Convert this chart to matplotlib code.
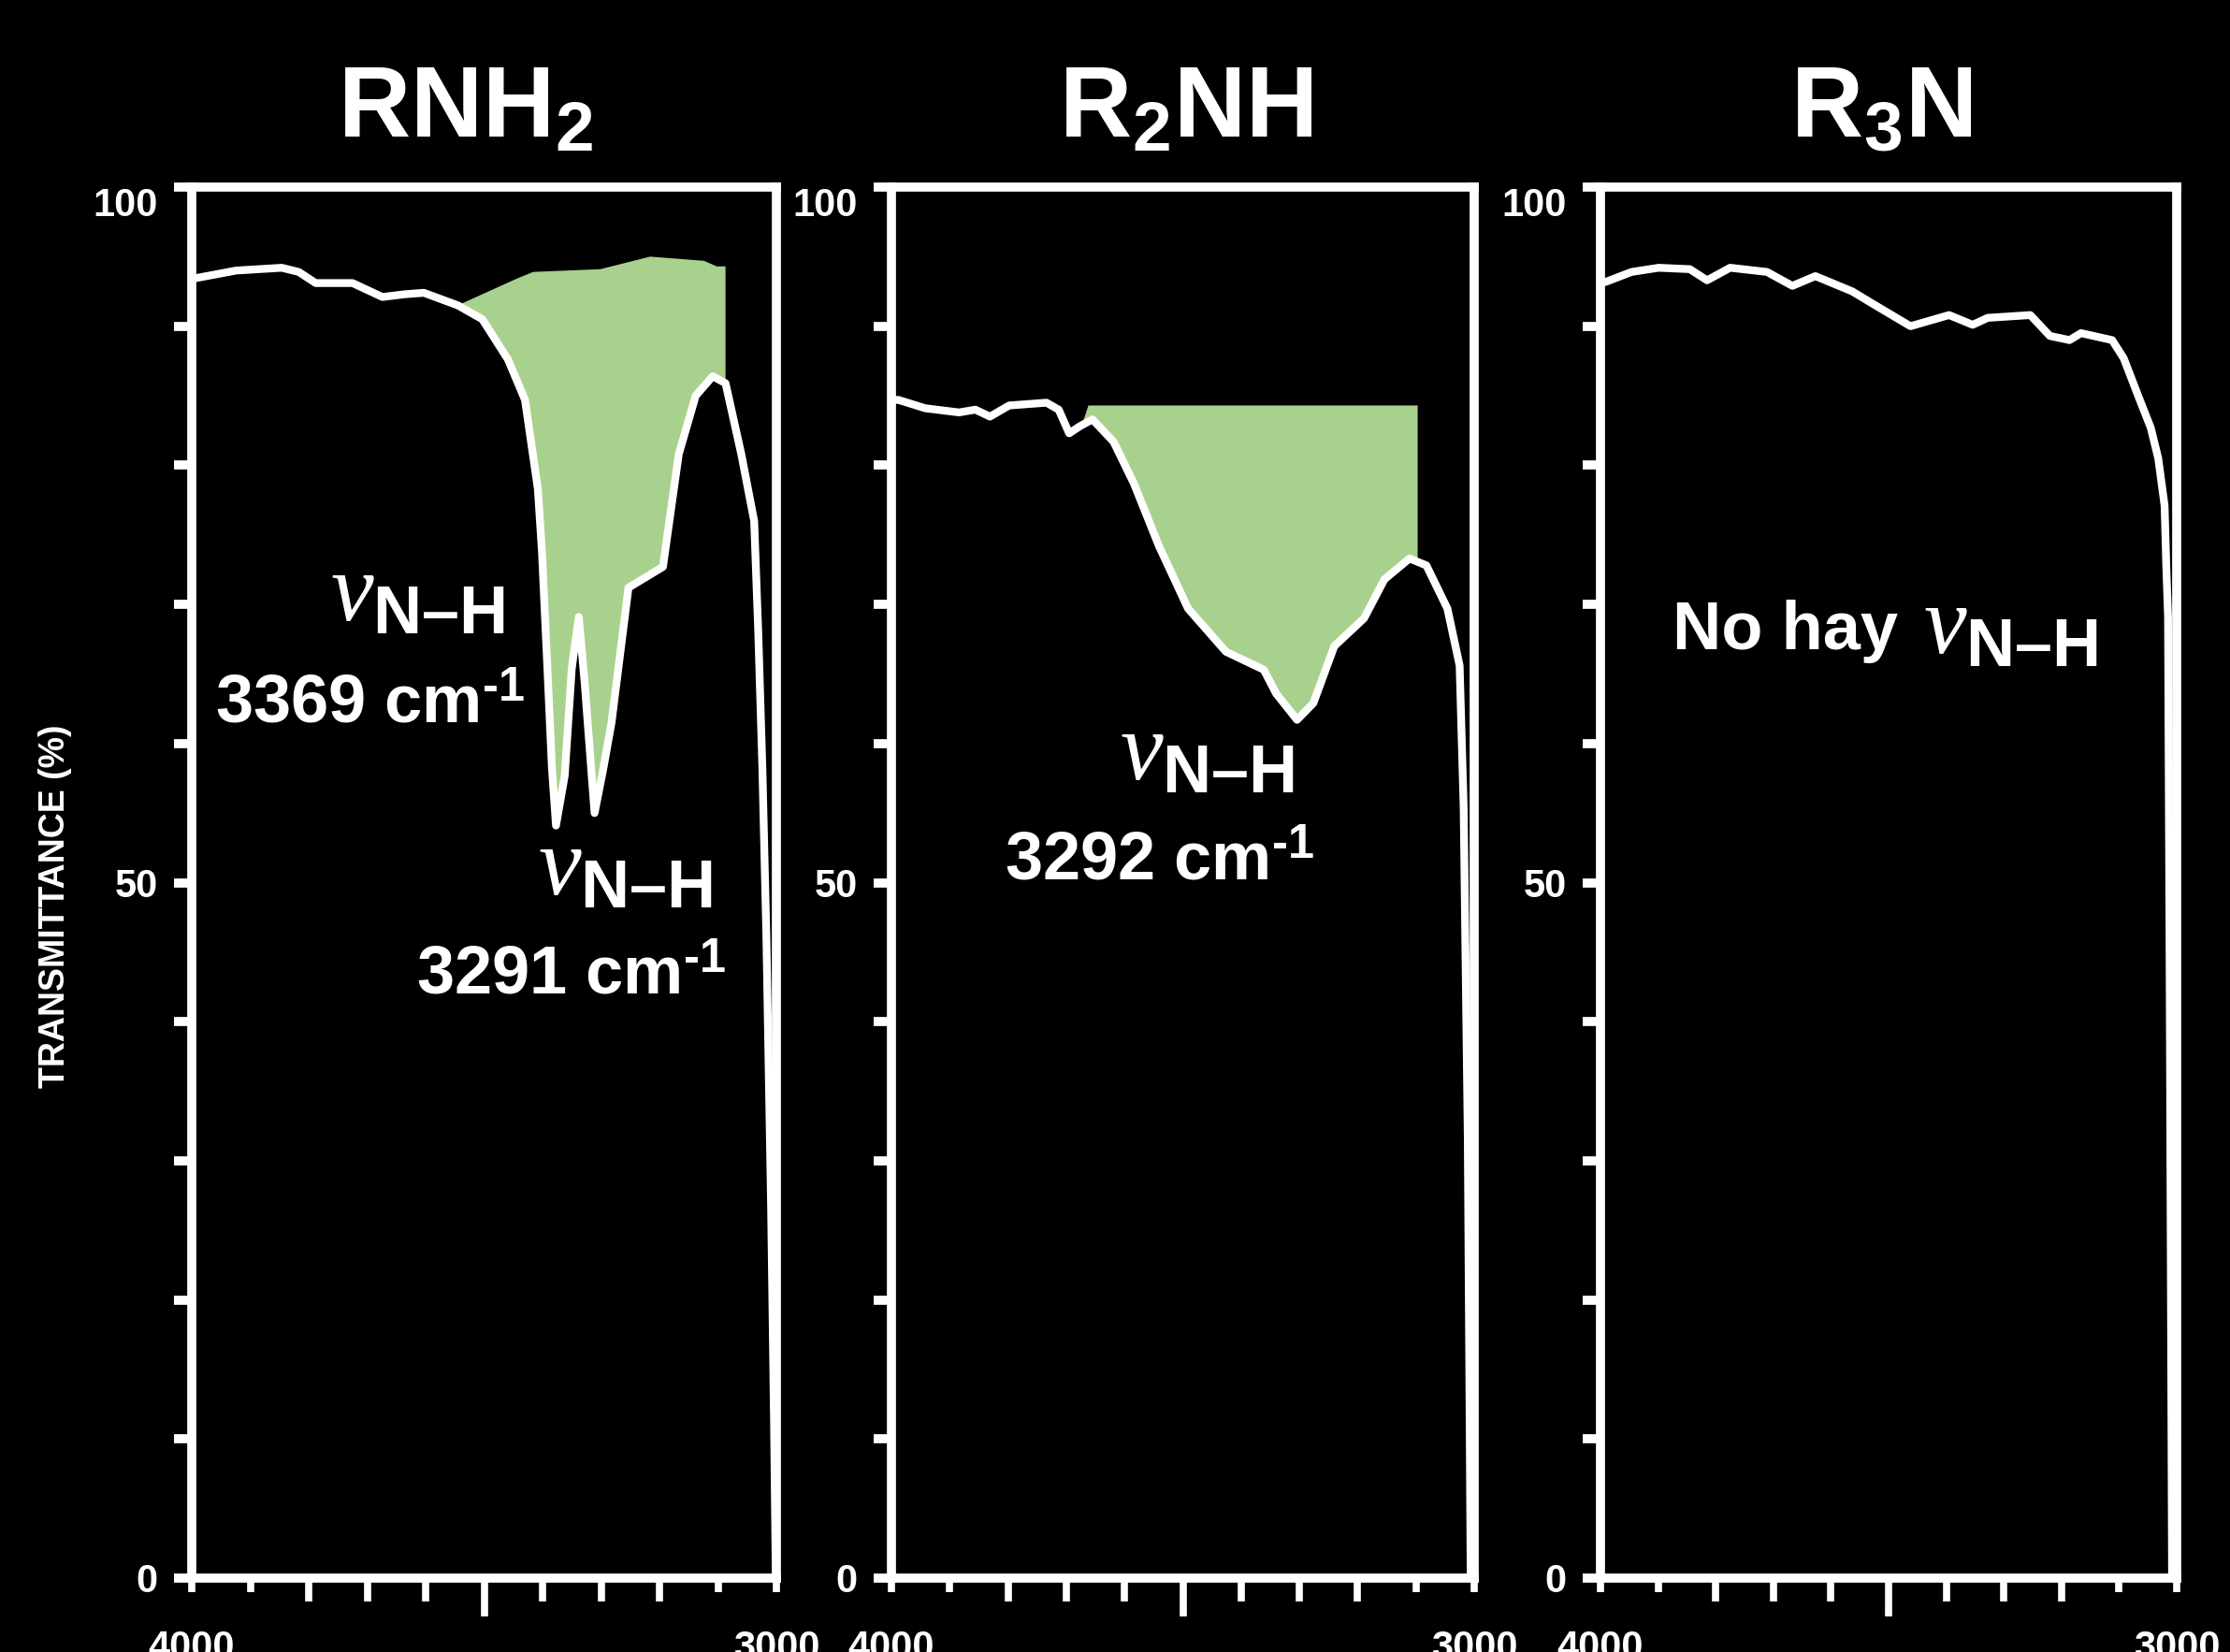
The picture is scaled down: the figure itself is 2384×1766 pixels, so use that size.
import numpy as np
import matplotlib
matplotlib.use('Agg')
import matplotlib.pyplot as plt

# IR spectra (wavenumber in cm-1, transmittance in %)
titles = ['RNH$_2$', 'R$_2$NH', 'R$_3$N']

wn1 = [4000, 3924, 3846, 3817, 3788, 3725, 3674, 3635, 3603, 3545, 3503, 3459, 3430,
       3408, 3401, 3391, 3384, 3377, 3362, 3350, 3338, 3328, 3311, 3296, 3282, 3253,
       3194, 3167, 3138, 3109, 3087, 3060, 3038, 3031, 3024, 3017, 3009, 3004, 3001]
t1 = [93.4, 94.0, 94.2, 93.9, 93.1, 93.1, 92.1, 92.3, 92.4, 91.5, 90.5, 87.6, 84.7,
      78.3, 73.8, 64.8, 58.3, 54.1, 57.7, 65.4, 69.1, 64.4, 55.0, 58.2, 61.5, 71.2,
      72.7, 80.8, 85.0, 86.4, 85.9, 80.8, 76.0, 68.0, 58.3, 45.9, 26.6, 11.2, 0.0]

wn2 = [4000, 3988, 3942, 3884, 3856, 3831, 3798, 3734, 3713, 3695, 3677, 3655, 3619,
       3584, 3541, 3491, 3426, 3361, 3340, 3304, 3276, 3240, 3189, 3154, 3111, 3082,
       3046, 3025, 3018, 3011, 3006]
t2 = [84.7, 84.7, 84.1, 83.8, 84.0, 83.5, 84.3, 84.5, 84.0, 82.3, 82.8, 83.3, 81.7,
      78.7, 74.2, 69.7, 66.6, 65.3, 63.6, 61.7, 62.9, 67.0, 69.0, 71.8, 73.3, 72.8,
      69.7, 65.6, 55.3, 31.7, 0.0]

wn3 = [4000, 3990, 3946, 3899, 3845, 3815, 3775, 3711, 3667, 3627, 3563, 3523, 3462,
       3395, 3354, 3328, 3254, 3220, 3186, 3166, 3112, 3092, 3065, 3045, 3032, 3021,
       3018, 3015, 3012, 3008]
t3 = [93.1, 93.2, 93.9, 94.2, 94.1, 93.3, 94.2, 93.9, 92.9, 93.6, 92.5, 91.5, 90.0,
      90.8, 90.1, 90.6, 90.8, 89.3, 89.0, 89.5, 89.0, 87.7, 84.8, 82.7, 80.5, 77.1,
      72.7, 69.1, 41.9, 0.0]

# upper edges of the green highlighted areas
fill1_wn = [3545, 3445, 3416, 3301, 3216, 3124, 3102, 3087]
fill1_t = [91.5, 93.4, 93.9, 94.1, 95.0, 94.7, 94.3, 94.3]
fill2_wn = [3673, 3662, 3097, 3097]
fill2_t = [82.9, 84.3, 84.3, 73.1]

plt.rcParams['font.family'] = 'Liberation Sans'
plt.rcParams['mathtext.fontset'] = 'custom'
plt.rcParams['mathtext.rm'] = 'Liberation Sans:bold'
plt.rcParams['mathtext.bf'] = 'Liberation Sans:bold'
plt.rcParams['mathtext.it'] = 'Liberation Serif:italic'

green = '#a9d18e'
nu = r'$\nu_{\mathrm{N–H}}$'


def style(ax, title, tx):
    ax.set_facecolor('black')
    ax.set_xlim(4000, 3000)
    ax.set_ylim(0, 100)
    for s in ax.spines.values():
        s.set_color('white')
        s.set_linewidth(7)
    ax.set_yticks([0, 50, 100])
    ax.set_yticks([10, 20, 30, 40, 60, 70, 80, 90], minor=True)
    ax.tick_params(axis='y', which='both', colors='white', length=14, width=7,
                   labelsize=30, pad=12)
    ax.set_xticks([4000, 3900, 3100, 3000])
    ax.set_xticklabels(['4000', '', '', '3000'])
    ax.set_xticks([3800, 3700, 3600, 3400, 3300, 3200], minor=True)
    ax.tick_params(axis='x', which='major', colors='white', length=10.5, width=5.5,
                   labelsize=30, pad=29)
    ax.tick_params(axis='x', which='minor', colors='white', length=18, width=5.5)
    for lb in ax.get_yticklabels() + ax.get_xticklabels():
        lb.set_fontweight('bold')
    ax.get_yticklabels()[-1].set_va('top')
    sec = ax.secondary_xaxis('bottom')
    sec.set_xticks([3500])
    sec.tick_params(length=29.5, width=5.5, colors='white', labelbottom=False)
    sec.spines['bottom'].set_visible(False)
    ax.text(tx, 1.036, title, transform=ax.transAxes, ha='center', va='baseline',
            fontsize=77, fontweight='bold', color='white')


def band(ax, wn, t, top_wn, top_t):
    wn = np.array(wn)
    t = np.array(t)
    inside = (wn < top_wn[0]) & (wn >= top_wn[-1])
    px = np.concatenate([top_wn, wn[inside][::-1]])
    py = np.concatenate([top_t, t[inside][::-1]])
    ax.fill(px, py, color=green, lw=0, zorder=2)


fig = plt.figure(figsize=(23.84, 17.66), dpi=100, facecolor='black')
boxes = [(205, 625), (953, 623), (1711, 616)]
title_x = [0.469, 0.506, 0.487]
axes = []
for (left, width), title, tx in zip(boxes, titles, title_x):
    ax = fig.add_axes([left / 2384, 1 - 1687 / 1766, width / 2384, 1487 / 1766])
    style(ax, title, tx)
    axes.append(ax)
ax1, ax2, ax3 = axes

band(ax1, wn1, t1, fill1_wn, fill1_t)
band(ax2, wn2, t2, fill2_wn, fill2_t)

for ax, wn, t in zip(axes, [wn1, wn2, wn3], [t1, t2, t3]):
    ax.plot(wn, t, color='white', lw=6, solid_joinstyle='round',
            solid_capstyle='round', zorder=3)

txt = dict(color='white', ha='left', va='baseline')
lab = dict(fontsize=52, fontweight='bold', **txt)

ax1.text(3763, 68.8, nu, fontsize=74, **txt)
ax1.text(3960, 61.5, r'3369 cm$^{\text{-}1}$', **lab)
ax1.text(3408, 49.1, nu, fontsize=74, **txt)
ax1.text(3616, 42.0, r'3291 cm$^{\text{-}1}$', **lab)

ax2.text(3609, 57.4, nu, fontsize=74, **txt)
ax2.text(3805, 50.2, r'3292 cm$^{\text{-}1}$', **lab)

ax3.text(3875, 66.8, 'No hay', **lab)
ax3.text(3440, 66.5, nu, fontsize=74, **txt)

fig.text(59 / 2384, 1 - 969 / 1766, 'TRANSMITTANCE (%)', rotation=90,
         ha='center', va='center', fontsize=27, fontweight='bold', color='white')

fig.savefig('out.png', dpi=100, facecolor='black')
